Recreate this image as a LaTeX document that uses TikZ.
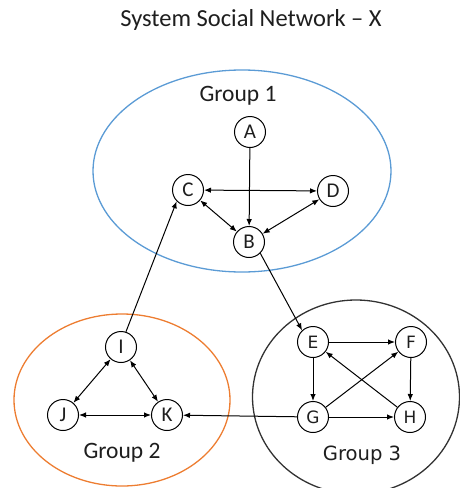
\documentclass[tikz,border=0pt]{standalone}
\usepackage{fontspec}
\setmainfont{Carlito}
\newfontfamily\grupafont{DejaVu Sans}
\usetikzlibrary{arrows.meta}
\definecolor{grpblue}{RGB}{91,155,213}
\definecolor{grporange}{RGB}{237,125,49}
\definecolor{grpgray}{RGB}{50,50,50}
\definecolor{txtgray}{RGB}{30,30,30}
\begin{document}
\begin{tikzpicture}[x=1pt, y=-1pt,
        osoba/.style={circle, draw, line width=1pt, minimum size=31pt, inner sep=0pt, text=txtgray, font=\fontsize{21}{21}\selectfont},
        osoba3/.style={osoba, font=\grupafont\fontsize{17}{17}\selectfont},
        grupa/.style={anchor=base, text=txtgray, font=\fontsize{23.5}{24}\selectfont},
        rel/.style={line width=1pt, -{Latex[length=7pt,width=5.5pt]}},
        rel2/.style={line width=1pt, {Latex[length=7pt,width=5.5pt]}-{Latex[length=7pt,width=5.5pt]}}]
        \useasboundingbox (0,0) rectangle (460,488);
        \clip (0,0) rectangle (460,488);

        % Tytul
        \node[anchor=base, text=txtgray, font=\fontsize{24.5}{25}\selectfont] (tytul) at (251,26) {System Social Network – X};

        % Grupy (elipsy)
        \draw[grpblue, line width=1.3pt] (242,171) ellipse [x radius=149, y radius=101];
        \draw[grporange, line width=1.3pt] (122,400) ellipse [x radius=108, y radius=86];
        \draw[grpgray, line width=1.3pt] (356,397) ellipse [x radius=103.5, y radius=97];

        \node[grupa] (g1) at (238,101.5) {Group 1};
        \node[grupa] (g2) at (122,458.5) {Group 2};
        \node[grupa, font=\grupafont\fontsize{19.6}{20}\selectfont] (g3) at (362,460) {Group 3};

        % Grupa 1
        \node[osoba] (A) at (250,132) {A};
        \node[osoba] (B) at (249,242) {B};
        \node[osoba] (C) at (188,190) {C};
        \node[osoba] (D) at (333,191) {D};

        % Grupa 2
        \node[osoba] (I) at (121,347) {I};
        \node[osoba] (J) at (63,415) {J};
        \node[osoba] (K) at (167,415) {K};

        % Grupa 3
        \node[osoba3] (E) at (313,342) {E};
        \node[osoba3] (F) at (411,342) {F};
        \node[osoba3] (G) at (313,417) {G};
        \node[osoba3] (H) at (410,417) {H};

        % Relacje w grupie 1
        \draw[rel] (A) -- (B);
        \draw[rel2] (C) -- (D);
        \draw[rel2] (C) -- (B);
        \draw[rel2] (D) -- (B);

        % Relacje w grupie 2
        \draw[rel2] (I) -- (J);
        \draw[rel2] (I) -- (K);
        \draw[rel2] (J) -- (K);

        % Relacje w grupie 3
        \draw[rel] (E) -- (F);
        \draw[rel] (E) -- (G);
        \draw[rel] (F) -- (H);
        \draw[rel] (G) -- (H);
        \draw[rel] (G) -- (F);
        \draw[rel] (H) -- (E);

        % Relacje miedzy grupami
        \draw[rel] (B.315) -- (E.133);
        \draw[rel] (I.72) -- (C.225);
        \draw[rel] (G) -- (K);
    \end{tikzpicture}
\end{document}
